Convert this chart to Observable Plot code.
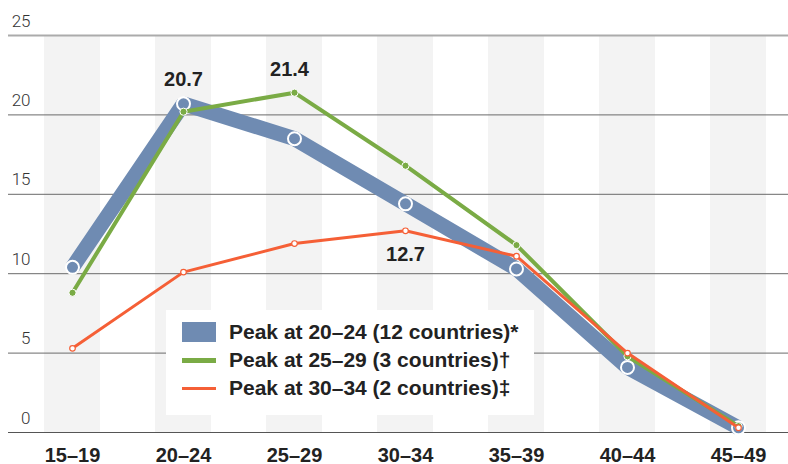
<!DOCTYPE html>
<html>
<head>
<meta charset="utf-8">
<script src="https://cdn.jsdelivr.net/npm/d3@7"></script>
<script src="https://cdn.jsdelivr.net/npm/@observablehq/plot@0.6"></script>
<style>
  html, body { margin: 0; padding: 0; background: #fff; }
  #wrap { position: relative; width: 788px; height: 464px; }
  #legend {
    position: absolute; left: 166px; top: 310px; width: 368px; height: 105px;
    background: #fff; font-family: "Liberation Sans", Arial, sans-serif;
    font-weight: bold; font-size: 21px; color: #222;
  }
  .item { position: absolute; left: 16px; height: 20px; display: flex; align-items: center; }
  .sw { width: 34px; margin-right: 13px; flex: none; }
  .item span { white-space: nowrap; }
</style>
</head>
<body>
<div id="wrap"></div>
<script>
const ages = ["15–19", "20–24", "25–29", "30–34", "35–39", "40–44", "45–49"];
const peak2024 = [10.4, 20.7, 18.5, 14.4, 10.3, 4.1, 0.3];
const peak2529 = [8.8, 20.2, 21.4, 16.8, 11.8, 4.8, 0.4];
const peak3034 = [5.3, 10.1, 11.9, 12.7, 11.1, 5.0, 0.3];
const yTicks = [0, 5, 10, 15, 20, 25];
const seriesNames = [
  "Peak at 20–24 (12 countries)*",
  "Peak at 25–29 (3 countries)†",
  "Peak at 30–34 (2 countries)‡"
];
const colors = ["#6f8bb2", "#7aab45", "#f55f36"];

const rows = (vals) => ages.map((a, i) => ({age: a, v: vals[i]}));
const blue = rows(peak2024), green = rows(peak2529), orange = rows(peak3034);

const chart = Plot.plot({
  width: 788,
  height: 464,
  marginTop: 35,
  marginBottom: 32,
  marginLeft: 8,
  marginRight: 0,
  style: {fontFamily: "Liberation Sans, Arial, sans-serif", background: "#fff"},
  x: {type: "band", domain: ages, range: [16, 794], paddingInner: 0.5, paddingOuter: 0.25, axis: null},
  y: {domain: [0, 25], axis: null},
  marks: [
    Plot.barY(ages, {x: d => d, y1: 0, y2: 25, fill: "#f3f3f3"}),
    Plot.ruleY([5, 10, 15, 20], {stroke: "#6a6a6a", strokeWidth: 1}),
    Plot.ruleY([25], {stroke: "#ababab", strokeWidth: 2}),
    Plot.ruleY([0], {stroke: "#555", strokeWidth: 1.2}),
    Plot.text(yTicks, {y: d => d, text: d => String(d), frameAnchor: "left", dx: 22, dy: -9,
      textAnchor: "end", lineAnchor: "bottom", fontSize: 17, fill: "#333",
      fontFamily: "Roboto, Liberation Sans, sans-serif", fontWeight: 300}),
    Plot.text(ages, {x: d => d, text: d => d, frameAnchor: "bottom", lineAnchor: "bottom", dy: 29,
      fontSize: 20, fontWeight: "bold", fill: "#222"}),
    // blue series
    Plot.line(blue, {x: "age", y: "v", stroke: colors[0], strokeWidth: 15, strokeLinejoin: "miter", strokeLinecap: "butt"}),
    Plot.dot(blue, {x: "age", y: "v", r: 6.5, fill: colors[0], stroke: "#fff", strokeWidth: 2}),
    // green series
    Plot.line(green, {x: "age", y: "v", stroke: colors[1], strokeWidth: 4}),
    Plot.dot(green, {x: "age", y: "v", r: 3.6, fill: colors[1], stroke: "#fff", strokeWidth: 1}),
    // orange series
    Plot.line(orange, {x: "age", y: "v", stroke: colors[2], strokeWidth: 3}),
    Plot.dot(orange, {x: "age", y: "v", r: 2.8, fill: "#fff", stroke: colors[2], strokeWidth: 1.2}),
    // peak labels
    Plot.text([blue[1]], {x: "age", y: "v", text: d => d.v.toFixed(1), lineAnchor: "bottom", dy: -18,
      fontSize: 20, fontWeight: "bold", fill: "#222"}),
    Plot.text([green[2]], {x: "age", y: "v", text: d => d.v.toFixed(1), lineAnchor: "bottom", dy: -17, dx: -5,
      fontSize: 20, fontWeight: "bold", fill: "#222"}),
    Plot.text([orange[3]], {x: "age", y: "v", text: d => d.v.toFixed(1), lineAnchor: "bottom", dy: 30,
      fontSize: 20, fontWeight: "bold", fill: "#222"})
  ]
});
const wrap = document.getElementById("wrap");
wrap.appendChild(chart);

const legend = document.createElement("div");
legend.id = "legend";
const swatchH = [20, 5, 3];
const tops = [12, 40, 68];
seriesNames.forEach((name, i) => {
  const item = document.createElement("div");
  item.className = "item";
  item.style.top = tops[i] + "px";
  const sw = document.createElement("div");
  sw.className = "sw";
  sw.style.height = swatchH[i] + "px";
  sw.style.background = colors[i];
  const t = document.createElement("span");
  t.textContent = name;
  item.appendChild(sw);
  item.appendChild(t);
  legend.appendChild(item);
});
wrap.appendChild(legend);
</script>
</body>
</html>
